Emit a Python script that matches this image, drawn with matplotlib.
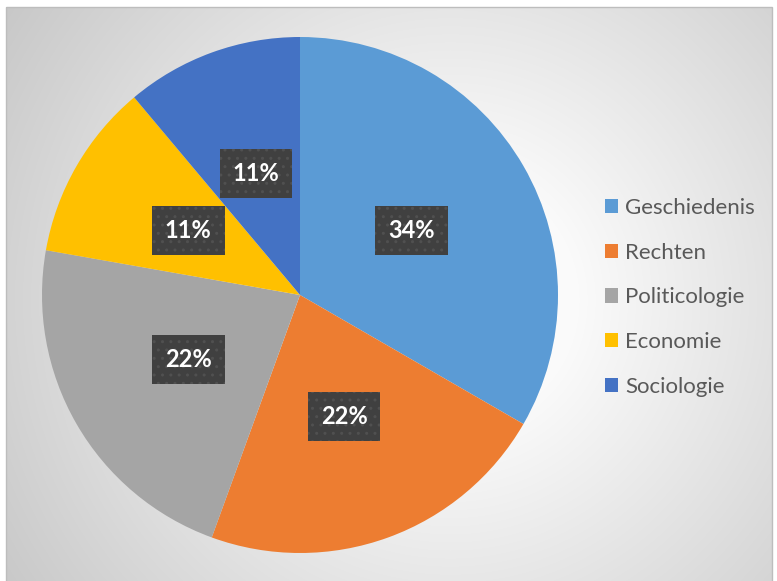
import matplotlib.pyplot as plt
import numpy as np
from matplotlib.patches import Patch, Rectangle

# vakken en aantallen (aandeel in de taart)
vakken = ['Geschiedenis', 'Rechten', 'Politicologie', 'Economie', 'Sociologie']
aantallen = [3, 2, 2, 1, 1]
labels_pct = ['34%', '22%', '22%', '11%', '11%']
kleuren = ['#5B9BD5', '#ED7D31', '#A5A5A5', '#FFC000', '#4472C4']

W, H = 777, 581
fig = plt.figure(figsize=(W / 100, H / 100), dpi=100)

# achtergrond van het grafiekgebied: radiaal verloop
bg = fig.add_axes([0, 0, 1, 1], zorder=-5)
bg.set_xlim(0, W)
bg.set_ylim(H, 0)
bg.axis('off')
x0, x1, y0, y1 = 6, 772, 7, 590
xx, yy = np.meshgrid(np.arange(x0, x1), np.arange(y0, min(y1, H)))
d = np.hypot(xx - 450, yy - 300)
v = np.clip(266 - 0.124 * d, 190, 250) / 255.0
img = np.dstack([v, v, v])
bg.imshow(img, extent=(x0, x1, min(y1, H), y0), aspect='auto', interpolation='bilinear')
bg.add_patch(Rectangle((x0, y0), x1 - x0, y1 - y0, fill=False, edgecolor='#bdbdbd', linewidth=1))

# taart
r = 258
cx, cy = 300, 295
ax = fig.add_axes([(cx - r) / W, (H - cy - r) / H, 2 * r / W, 2 * r / H])
wedges, teksten = ax.pie(aantallen, labels=labels_pct, colors=kleuren, startangle=90,
                         counterclock=False, labeldistance=0.5,
                         wedgeprops=dict(linewidth=0),
                         textprops=dict(color='white', fontsize=17, fontweight='bold',
                                        family=['Lato', 'DejaVu Sans']))
for t in teksten:
    t.set_ha('center')
    t.set_va('center')
    t.set_bbox(dict(boxstyle='square,pad=0.55', facecolor='#404040', edgecolor='#505050',
                    linewidth=0, hatch='..'))
ax.set_xlim(-1, 1)
ax.set_ylim(-1, 1)
ax.set_aspect('equal')

# legenda
handles = [Patch(facecolor=k, edgecolor='none') for k in kleuren]
fig.legend(handles, vakken, loc='upper left', bbox_to_anchor=(605 / W, 1 - 198 / H),
           frameon=False, prop=dict(family=['Lato', 'DejaVu Sans'], size=16),
           handlelength=0.6, handleheight=0.6, handletextpad=0.3, labelspacing=1.11,
           borderpad=0, borderaxespad=0, labelcolor='#595959')

fig.savefig('out.png', dpi=100)
